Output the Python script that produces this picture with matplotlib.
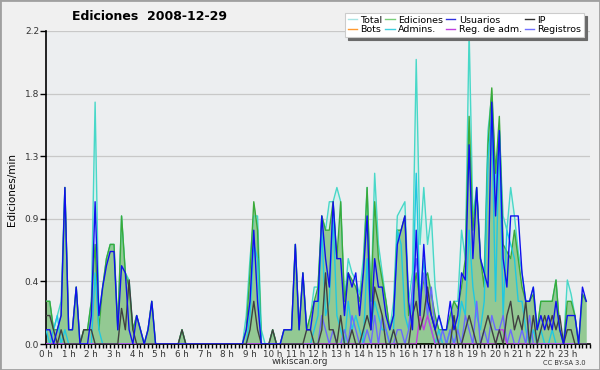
import matplotlib
matplotlib.use("Agg")
import matplotlib.pyplot as plt
import numpy as np
from matplotlib.patches import Rectangle

# 10-minute bins, edits per minute, one row per hour
total = [
    0.3, 0.3, 0.1, 0.2, 0.3, 1.1,
    0.1, 0.1, 0.4, 0.0, 0.1, 0.1,
    0.3, 1.7, 0.2, 0.4, 0.6, 0.7,
    0.7, 0.1, 0.9, 0.5, 0.45, 0.1,
    0.2, 0.1, 0.0, 0.1, 0.3, 0.0,
    0.0, 0.0, 0.0, 0.0, 0.0, 0.0,
    0.1, 0.0, 0.0, 0.0, 0.0, 0.0,
    0.0, 0.0, 0.0, 0.0, 0.0, 0.0,
    0.0, 0.0, 0.0, 0.0, 0.0, 0.2,
    0.6, 0.9, 0.9, 0.1, 0.0, 0.0,
    0.1, 0.0, 0.0, 0.1, 0.1, 0.1,
    0.7, 0.1, 0.5, 0.1, 0.2, 0.4,
    0.4, 0.9, 0.8, 1.0, 1.0, 1.1,
    1.0, 0.3, 0.6, 0.5, 0.45, 0.35,
    0.6, 1.1, 0.3, 1.2, 0.7, 0.5,
    0.3, 0.1, 0.3, 0.9, 0.95, 1.0,
    0.3, 0.5, 2.0, 0.7, 1.1, 0.7,
    0.9, 0.4, 0.2, 0.1, 0.1, 0.2,
    0.3, 0.3, 0.8, 0.6, 2.2, 0.9,
    1.1, 0.6, 0.5, 1.5, 1.75, 1.1,
    1.5, 0.9, 0.8, 1.1, 0.9, 0.65,
    0.5, 0.3, 0.3, 0.4, 0.1, 0.3,
    0.3, 0.3, 0.3, 0.45, 0.1, 0.0,
    0.45, 0.35, 0.2, 0.0, 0.35, 0.3,
]
ediciones = [
    0.3, 0.3, 0.1, 0.1, 0.2, 1.1,
    0.1, 0.1, 0.4, 0.0, 0.1, 0.1,
    0.3, 0.7, 0.1, 0.4, 0.6, 0.7,
    0.7, 0.1, 0.9, 0.5, 0.4, 0.1,
    0.2, 0.1, 0.0, 0.1, 0.3, 0.0,
    0.0, 0.0, 0.0, 0.0, 0.0, 0.0,
    0.1, 0.0, 0.0, 0.0, 0.0, 0.0,
    0.0, 0.0, 0.0, 0.0, 0.0, 0.0,
    0.0, 0.0, 0.0, 0.0, 0.0, 0.1,
    0.5, 1.0, 0.8, 0.0, 0.0, 0.0,
    0.1, 0.0, 0.0, 0.1, 0.1, 0.1,
    0.7, 0.1, 0.5, 0.1, 0.2, 0.3,
    0.4, 0.9, 0.8, 0.8, 1.0, 0.6,
    1.0, 0.3, 0.5, 0.45, 0.4, 0.3,
    0.5, 1.1, 0.3, 1.0, 0.6, 0.45,
    0.3, 0.1, 0.2, 0.8, 0.8, 0.9,
    0.2, 0.3, 0.5, 0.3, 0.45, 0.5,
    0.35, 0.2, 0.1, 0.1, 0.1, 0.2,
    0.3, 0.25, 0.4, 0.6, 1.6, 0.8,
    1.1, 0.6, 0.4, 1.4, 1.8, 1.2,
    1.6, 0.7, 0.65, 0.6, 0.8, 0.6,
    0.4, 0.3, 0.3, 0.35, 0.1, 0.3,
    0.3, 0.3, 0.3, 0.45, 0.1, 0.0,
    0.3, 0.3, 0.2, 0.0, 0.35, 0.3,
]
usuarios = [
    0.1, 0.1, 0.0, 0.1, 0.2, 1.1,
    0.1, 0.1, 0.4, 0.0, 0.0, 0.0,
    0.2, 1.0, 0.2, 0.4, 0.55, 0.65,
    0.65, 0.1, 0.55, 0.5, 0.1, 0.0,
    0.2, 0.1, 0.0, 0.1, 0.3, 0.0,
    0.0, 0.0, 0.0, 0.0, 0.0, 0.0,
    0.0, 0.0, 0.0, 0.0, 0.0, 0.0,
    0.0, 0.0, 0.0, 0.0, 0.0, 0.0,
    0.0, 0.0, 0.0, 0.0, 0.0, 0.1,
    0.3, 0.8, 0.3, 0.0, 0.0, 0.0,
    0.0, 0.0, 0.0, 0.1, 0.1, 0.1,
    0.7, 0.1, 0.5, 0.1, 0.1, 0.3,
    0.3, 0.9, 0.6, 0.4, 1.0, 0.6,
    0.6, 0.2, 0.5, 0.4, 0.5, 0.2,
    0.5, 0.9, 0.1, 0.6, 0.4, 0.4,
    0.2, 0.1, 0.2, 0.7, 0.8, 0.9,
    0.3, 0.1, 0.8, 0.2, 0.7, 0.3,
    0.2, 0.1, 0.2, 0.1, 0.1, 0.3,
    0.1, 0.2, 0.5, 0.45, 1.4, 0.6,
    1.1, 0.6, 0.5, 0.4, 1.7, 0.9,
    1.5, 0.6, 0.4, 0.9, 0.9, 0.9,
    0.5, 0.3, 0.3, 0.4, 0.1, 0.2,
    0.1, 0.2, 0.1, 0.3, 0.1, 0.0,
    0.2, 0.2, 0.2, 0.0, 0.4, 0.3,
]
ip = [
    0.2, 0.2, 0.1, 0.0, 0.1, 0.0,
    0.0, 0.0, 0.0, 0.0, 0.1, 0.1,
    0.1, 0.0, 0.0, 0.0, 0.0, 0.0,
    0.0, 0.0, 0.25, 0.1, 0.45, 0.1,
    0.0, 0.0, 0.0, 0.0, 0.0, 0.0,
    0.0, 0.0, 0.0, 0.0, 0.0, 0.0,
    0.1, 0.0, 0.0, 0.0, 0.0, 0.0,
    0.0, 0.0, 0.0, 0.0, 0.0, 0.0,
    0.0, 0.0, 0.0, 0.0, 0.0, 0.0,
    0.1, 0.3, 0.1, 0.0, 0.0, 0.0,
    0.1, 0.0, 0.0, 0.0, 0.0, 0.0,
    0.0, 0.0, 0.0, 0.1, 0.1, 0.0,
    0.0, 0.1, 0.5, 0.1, 0.1, 0.0,
    0.2, 0.0, 0.0, 0.1, 0.0, 0.0,
    0.1, 0.2, 0.1, 0.4, 0.3, 0.2,
    0.0, 0.0, 0.1, 0.0, 0.0, 0.0,
    0.0, 0.2, 0.3, 0.1, 0.2, 0.4,
    0.2, 0.1, 0.0, 0.0, 0.0, 0.0,
    0.2, 0.0, 0.0, 0.1, 0.2, 0.1,
    0.0, 0.0, 0.1, 0.2, 0.1, 0.0,
    0.1, 0.0, 0.2, 0.3, 0.1, 0.2,
    0.1, 0.3, 0.0, 0.2, 0.0, 0.1,
    0.2, 0.1, 0.2, 0.1, 0.2, 0.0,
    0.1, 0.1, 0.0, 0.0, 0.0, 0.0,
]
admins = [
    0.1, 0.0, 0.1, 0.2, 0.0, 0.1,
    0.0, 0.0, 0.0, 0.0, 0.0, 0.0,
    0.0, 0.5, 0.1, 0.0, 0.0, 0.0,
    0.0, 0.0, 0.0, 0.0, 0.0, 0.0,
    0.0, 0.0, 0.0, 0.0, 0.0, 0.0,
    0.0, 0.0, 0.0, 0.0, 0.0, 0.0,
    0.0, 0.0, 0.0, 0.0, 0.0, 0.0,
    0.0, 0.0, 0.0, 0.0, 0.0, 0.0,
    0.0, 0.0, 0.0, 0.0, 0.0, 0.0,
    0.2, 0.7, 0.6, 0.0, 0.0, 0.0,
    0.0, 0.0, 0.0, 0.0, 0.0, 0.0,
    0.0, 0.0, 0.0, 0.0, 0.0, 0.1,
    0.2, 0.8, 0.2, 0.3, 0.9, 0.2,
    0.1, 0.0, 0.3, 0.1, 0.2, 0.1,
    0.0, 0.6, 0.1, 0.3, 0.2, 0.1,
    0.1, 0.0, 0.1, 0.8, 0.7, 0.2,
    0.1, 0.3, 1.2, 0.3, 0.6, 0.2,
    0.1, 0.0, 0.1, 0.0, 0.0, 0.1,
    0.0, 0.1, 0.3, 0.2, 0.8, 0.4,
    0.2, 0.1, 0.3, 1.3, 1.6, 0.3,
    1.5, 0.2, 0.8, 0.7, 0.6, 0.3,
    0.3, 0.1, 0.0, 0.1, 0.0, 0.1,
    0.0, 0.0, 0.1, 0.0, 0.0, 0.0,
    0.0, 0.0, 0.0, 0.0, 0.0, 0.0,
]
registros = [0.0] * 72 + [
    0.0, 0.2, 0.1, 0.0, 0.1, 0.0,
    0.0, 0.1, 0.0, 0.2, 0.1, 0.0,
    0.0, 0.1, 0.0, 0.2, 0.0, 0.2,
    0.1, 0.0, 0.0, 0.1, 0.1, 0.0,
    0.1, 0.4, 0.6, 0.3, 0.5, 0.2,
    0.4, 0.1, 0.0, 0.1, 0.0, 0.1,
    0.0, 0.1, 0.0, 0.2, 0.1, 0.0,
    0.3, 0.0, 0.1, 0.0, 0.2, 0.1,
    0.1, 0.2, 0.0, 0.1, 0.0, 0.0,
    0.1, 0.0, 0.2, 0.0, 0.0, 0.0,
    0.0, 0.0, 0.0, 0.0, 0.0, 0.0,
    0.0, 0.0, 0.0, 0.0, 0.0, 0.0,
]
reg_adm = [0.0] * 96 + [
    0.0, 0.0, 0.0, 0.2, 0.1, 0.2,
    0.1, 0.0, 0.0, 0.0, 0.0, 0.0,
    0.0, 0.0, 0.0, 0.0, 0.0, 0.0,
    0.0, 0.0, 0.0, 0.0, 0.0, 0.0,
    0.1, 0.1, 0.0, 0.0, 0.0, 0.0,
] + [0.0] * 18
bots = [0.0] * 144

hour_labels = ["%d h" % h for h in range(24)]

x = np.arange(len(total)) / 6.0

fig = plt.figure(figsize=(6, 3.7), dpi=100, facecolor="#f0f0f0")
fig.patches.append(Rectangle((0, 0), 1, 1, transform=fig.transFigure,
                             fill=False, edgecolor="#a0a0a0", lw=2))
ax = fig.add_axes([46 / 600, 1 - 344 / 370, 544 / 600, 313 / 370])
ax.set_facecolor("#eceef0")

ax.fill_between(x, total, color="#c8eeea", alpha=0.5, lw=0, zorder=1)
ax.fill_between(x, ediciones, color="#93c993", lw=0, zorder=2)
ax.plot(x, total, color="#48d8c8", lw=1, zorder=3)
ax.plot(x, ediciones, color="#3aaa3a", lw=1, zorder=3)
ax.plot(x, admins, color="#20c8e0", lw=1, zorder=4)
ax.plot(x, registros, color="#6a6aff", lw=1, zorder=4)
ax.plot(x, reg_adm, color="#c040e0", lw=1, zorder=4)
ax.plot(x, bots, color="#ff9a30", lw=1, zorder=2)
ax.plot(x, ip, color="#404040", lw=1, zorder=5)
ax.plot(x, usuarios, color="#1010ee", lw=1, zorder=6)

ax.set_xlim(0, 24)
ax.set_ylim(0, 2.2)
yt = np.linspace(0, 2.2, 6)
ax.set_yticks(yt)
ax.set_yticklabels(["%.1f" % v for v in yt], fontsize=6.5, color="#333333")
ax.set_xticks(np.arange(24))
ax.set_xticklabels(hour_labels, fontsize=6.3, color="#333333")
ax.set_xticks(np.arange(0, 24.01, 1 / 6.0), minor=True)
ax.tick_params(axis="x", which="both", direction="out", length=3, width=1, pad=1)
ax.tick_params(axis="y", direction="out", length=4, width=1, pad=1)
ax.grid(axis="y", color="#c8c8c8", lw=0.9)
ax.set_axisbelow(True)
for s in ["top", "right"]:
    ax.spines[s].set_visible(False)
ax.spines["left"].set_linewidth(1.2)
ax.spines["bottom"].set_linewidth(1.2)

fig.text(12 / 600, 1 - 190 / 370, "Ediciones/min", rotation=90, fontsize=7.5,
         ha="center", va="center")
fig.text(150 / 600, 1 - 17 / 370, "Ediciones  2008-12-29", fontsize=9,
         fontweight="bold", ha="center", va="center")
fig.text(300 / 600, 1 - 362 / 370, "wikiscan.org", fontsize=6.5, color="#333333",
         ha="center", va="center")
fig.text(586 / 600, 1 - 363 / 370, "CC BY-SA 3.0", fontsize=4.8, color="#333333",
         ha="right", va="center")

handles = [
    plt.Line2D([], [], color="#a8e4e4", lw=1),
    plt.Line2D([], [], color="#ff9a30", lw=1),
    plt.Line2D([], [], color="#7ad07a", lw=1),
    plt.Line2D([], [], color="#40d0e0", lw=1),
    plt.Line2D([], [], color="#3030e0", lw=1),
    plt.Line2D([], [], color="#c040e0", lw=1),
    plt.Line2D([], [], color="#303030", lw=1),
    plt.Line2D([], [], color="#7070ff", lw=1),
]
names = ["Total", "Bots", "Ediciones", "Admins.", "Usuarios", "Reg. de adm.",
         "IP", "Registros"]
leg = fig.legend(handles, names, ncol=4, loc="upper right",
                 bbox_to_anchor=(589 / 600, 1 - 8 / 370), fontsize=6.8,
                 handlelength=1.0, handletextpad=0.35, columnspacing=0.3,
                 labelspacing=0.05, borderpad=0.3, fancybox=False,
                 shadow={"color": "#6a6a6a", "alpha": 1.0},
                 framealpha=1, edgecolor="#cccccc")
leg.get_frame().set_linewidth(0.8)

fig.savefig("out.png", dpi=100, facecolor=fig.get_facecolor())
